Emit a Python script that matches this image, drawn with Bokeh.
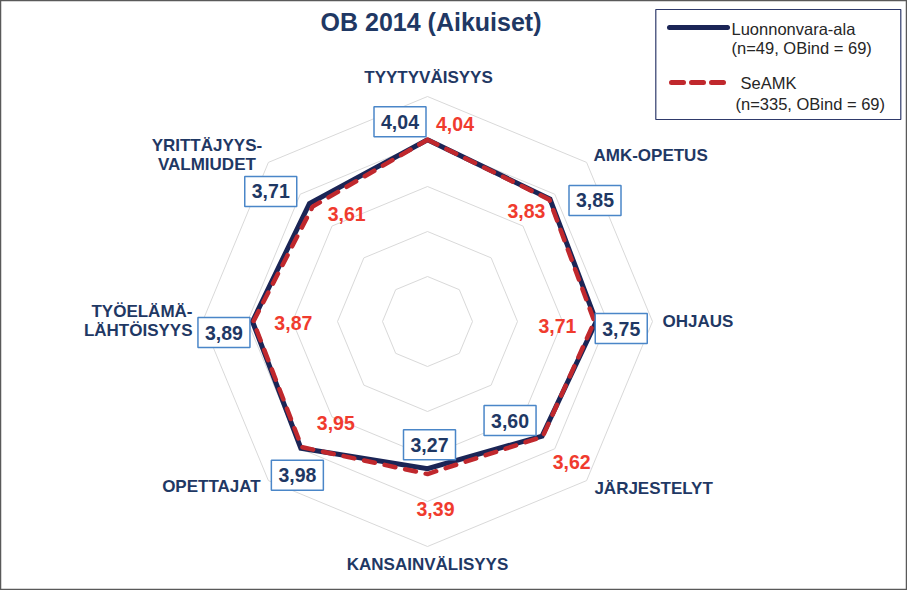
import numpy as np
from bokeh.plotting import figure
from bokeh.models import Range1d, ColumnDataSource
from bokeh.core.properties import value
from bokeh.embed import file_html
from bokeh.resources import INLINE

# ---------------- data ----------------
categories = ["TYYTYVÄISYYS", "AMK-OPETUS", "OHJAUS", "JÄRJESTELYT",
              "KANSAINVÄLISYYS", "OPETTAJAT", "TYÖELÄMÄ-\nLÄHTÖISYYS",
              "YRITTÄJYYS-\nVALMIUDET"]
luonnonvara = [4.04, 3.85, 3.75, 3.60, 3.27, 3.98, 3.89, 3.71]
seamk = [4.04, 3.83, 3.71, 3.62, 3.39, 3.95, 3.87, 3.61]
ring_levels = [1, 2, 3, 4, 5]
title_text = "OB 2014 (Aikuiset)"
legend_names = ["Luonnonvara-ala", "SeAMK"]
legend_notes = ["(n=49, OBind = 69)", "(n=335, OBind = 69)"]

# ---------------- layout / style ----------------
UNIT = 45.0  # px per scale unit
NAVY = "#1f3864"
LINE_NAVY = "#1b2556"
LINE_RED = "#c0282d"
TXT_RED = "#f03b2e"
BOX_BLUE = "#4a86c8"
FONT = value("Liberation Sans")

# label offsets in screen px (dx right, dy down) from data point
blue_off = [(-27.5, -18), (45, 1.5), (25, 7), (-32, -15.5), (2, -24), (-3.5, 27), (-28.5, 11), (-38.7, -12)]
red_off = [(27.5, -16), (-23, 11), (-37, 4), (29, 25), (8, 35), (34, -24), (40, 1), (34, 7)]
# category label offsets from outer ring vertex (first line), alignment
cat_off = [(1, -19, "center"), (64, -7, "center"), (10, 0, "left"), (67, 8, "center"),
           (0, 18, "center"), (-57, 6, "center"), (-10, -10, "right"), (-61.5, -17, "center")]
LINE_SP = 19

n = len(categories)
ang = np.deg2rad(90 - 45 * np.arange(n))
cosA, sinA = np.cos(ang), np.sin(ang)

W, H = 907, 590
p = figure(width=W, height=H, output_backend="svg", toolbar_location=None,
           x_range=Range1d(-427, W - 427), y_range=Range1d(-(H - 321), 321))
p.min_border = 0
p.axis.visible = False
p.xaxis.visible = False
p.yaxis.visible = False
p.grid.visible = False
p.outline_line_color = "#595959"
p.outline_line_width = 1.5
p.background_fill_color = "white"
p.border_fill_color = "white"

# rings
for lv in ring_levels:
    xs = list(lv * UNIT * cosA) + [lv * UNIT * cosA[0]]
    ys = list(lv * UNIT * sinA) + [lv * UNIT * sinA[0]]
    p.line(xs, ys, line_color="#d9d9d9", line_width=1)

# series
def pts(vals):
    v = np.array(vals) * UNIT
    return v * cosA, v * sinA

bx, by = pts(luonnonvara)
rx, ry = pts(seamk)
p.line(list(bx) + [bx[0]], list(by) + [by[0]], line_color=LINE_NAVY, line_width=5, line_join="miter")
p.line(list(rx) + [rx[0]], list(ry) + [ry[0]], line_color=LINE_RED, line_width=4.5,
       line_dash="11 10", line_cap="round", line_join="round")

# blue value labels with boxes
bl_x = [bx[i] + blue_off[i][0] for i in range(n)]
bl_y = [by[i] - blue_off[i][1] for i in range(n)]
blue_txt = [f"{v:.2f}".replace(".", ",") for v in luonnonvara]
p.rect(bl_x, bl_y, width=52, height=30, fill_color="white", line_color=BOX_BLUE, line_width=1.5)
p.text(bl_x, bl_y, text=blue_txt, text_align="center", text_baseline="middle",
       text_font=FONT, text_font_style="bold", text_font_size="19.5px", text_color=NAVY)

# red value labels
rl_x = [rx[i] + red_off[i][0] for i in range(n)]
rl_y = [ry[i] - red_off[i][1] for i in range(n)]
red_txt = [f"{v:.2f}".replace(".", ",") for v in seamk]
p.text(rl_x, rl_y, text=red_txt, text_align="center", text_baseline="middle",
       text_font=FONT, text_font_style="bold", text_font_size="19.5px", text_color=TXT_RED)

# category labels
for i, cat in enumerate(categories):
    dx, dy, al = cat_off[i]
    vx, vy = 5 * UNIT * cosA[i], 5 * UNIT * sinA[i]
    for j, line in enumerate(cat.split("\n")):
        p.text([vx + dx], [vy - dy - j * LINE_SP], text=[line], text_align=al, text_baseline="middle",
               text_font=FONT, text_font_style="bold", text_font_size="17px", text_color=NAVY)

# title
p.text([3.5], [300], text=[title_text], text_align="center", text_baseline="middle",
       text_font=FONT, text_font_style="bold", text_font_size="25px", text_color=NAVY)

# legend (manual)
p.quad(left=[228.3], right=[473.3], bottom=[202], top=[312], fill_color="white",
       line_color="#2f3a6b", line_width=1.2)
p.line([242, 300], [294, 294], line_color=LINE_NAVY, line_width=5, line_cap="round")
p.line([244, 300], [239, 239], line_color=LINE_RED, line_width=5, line_dash="12 8", line_cap="round")
leg_font = dict(text_font=FONT, text_font_size="16.5px", text_color="#262626",
                text_align="left", text_baseline="middle")
p.text([304], [292.3], text=[legend_names[0]], **leg_font)
p.text([304], [274], text=[legend_notes[0]], **leg_font)
p.text([313], [239], text=[legend_names[1]], **leg_font)
p.text([308], [217.3], text=[legend_notes[1]], **leg_font)

open("out.html", "w").write(file_html(p, INLINE))
